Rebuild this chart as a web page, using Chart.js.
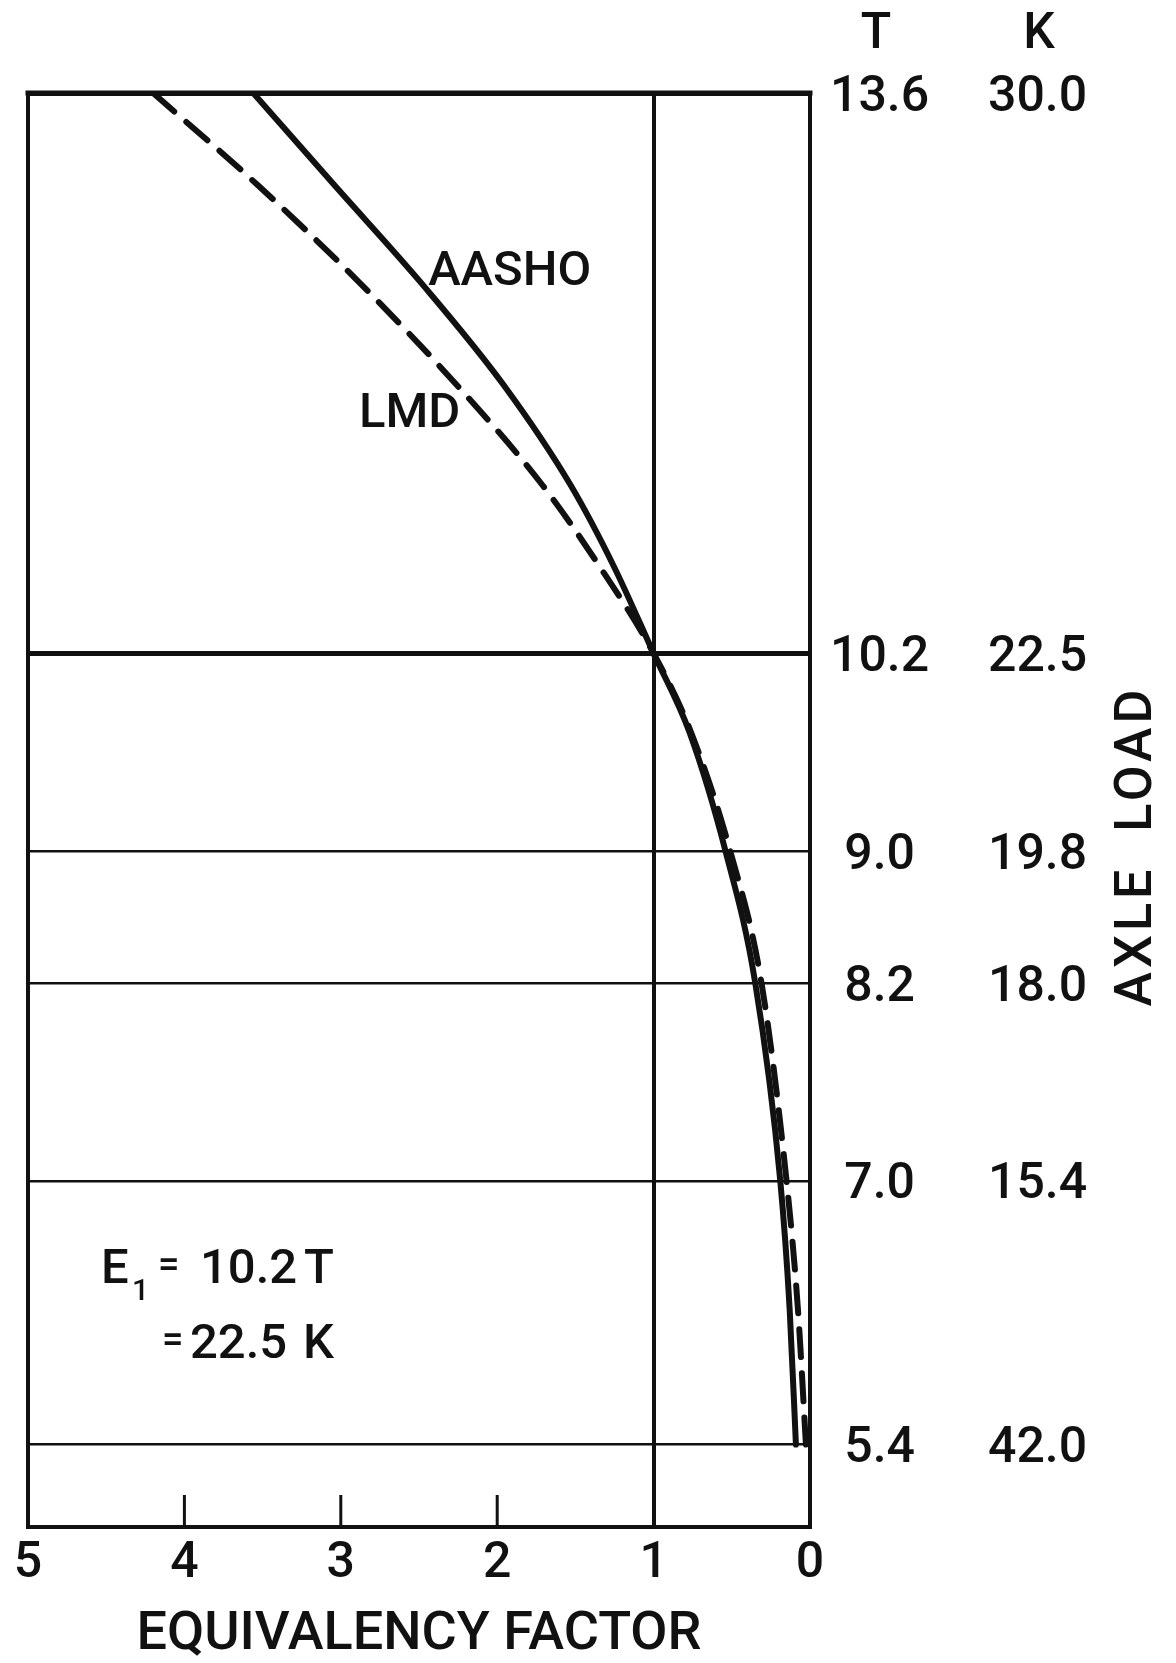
<!DOCTYPE html>
<html><head><meta charset="utf-8">
<script src="https://cdn.jsdelivr.net/npm/chart.js@4"></script>
<style>html,body{margin:0;padding:0;background:#fff}#wrap{width:1176px;height:1663px;position:relative}</style>
</head><body><div id="wrap"><canvas id="c" width="1176" height="1663"></canvas></div>
<script>
// ---- data ----
const T_TICKS  = [13.6, 10.2, 9.0, 8.2, 7.0, 5.4];          // axle load, tonnes
const K_LABELS = ['30.0', '22.5', '19.8', '18.0', '15.4', '42.0']; // as printed (kips)
const EF_INNER_TICKS = [4, 3, 2];
const AASHO_T  = [13.6, 13.04, 12.43, 11.83, 11.22, 10.72, 10.2, 9.72, 9.0, 8.2, 7.0, 6.22, 5.4];
const AASHO_EF = [3.56, 3.04, 2.47, 1.96, 1.53, 1.25, 1.0, 0.77, 0.54, 0.35, 0.19, 0.13, 0.09];
const LMD_T    = [13.6, 13.04, 12.43, 11.83, 11.22, 10.72, 10.2, 9.72, 9.0, 8.2, 7.0, 6.22, 5.4];
const LMD_EF   = [4.20, 3.53, 2.86, 2.26, 1.71, 1.34, 1.0, 0.76, 0.51, 0.31, 0.15, 0.077, 0.026];

const INK = '#111';
const FONT = 'Roboto';
const W = 500;
Chart.defaults.font.family = FONT;
Chart.defaults.font.weight = W;
Chart.defaults.color = INK;

const pts = (xs, ys) => xs.map((v, i) => ({x: v, y: ys[i]}));

const deco = {
  id: 'deco',
  beforeDraw(chart) {
    const c = chart.ctx; c.save(); c.fillStyle = '#fff'; c.fillRect(0, 0, chart.width, chart.height); c.restore();
  },
  afterDraw(chart) {
    const {ctx, chartArea: a, scales: {x, y}} = chart;
    ctx.save();
    ctx.strokeStyle = INK; ctx.fillStyle = INK; ctx.lineCap = 'square';
    // frame
    ctx.lineWidth = 4;
    ctx.beginPath();
    ctx.moveTo(a.left, a.top); ctx.lineTo(a.left, a.bottom); ctx.lineTo(a.right, a.bottom); ctx.lineTo(a.right, a.top);
    ctx.stroke();
    ctx.lineWidth = 5;
    ctx.beginPath(); ctx.moveTo(a.left, a.top); ctx.lineTo(a.right, a.top); ctx.stroke();
    // inner tick marks
    ctx.lineWidth = 3; ctx.lineCap = 'butt';
    EF_INNER_TICKS.forEach(v => {
      const px = x.getPixelForValue(v);
      ctx.beginPath(); ctx.moveTo(px, a.bottom); ctx.lineTo(px, a.bottom - 32); ctx.stroke();
    });
    // column headers
    ctx.textAlign = 'center'; ctx.textBaseline = 'middle';
    ctx.font = `${W} 50px "${FONT}"`;
    ctx.fillText('T', 876, 35);
    ctx.fillText('K', 1039, 35);
    // AXLE LOAD (reads bottom to top)
    ctx.save();
    ctx.translate(1138, 846); ctx.rotate(-Math.PI / 2);
    ctx.font = `${W} 52px "${FONT}"`;
    if ('letterSpacing' in ctx) ctx.letterSpacing = '4px';
    ctx.fillText('AXLE  LOAD', 0, 0);
    ctx.restore();
    // curve labels
    ctx.font = `${W} 49px "${FONT}"`;
    ctx.fillText('AASHO', x.getPixelForValue(1.92), y.getPixelForValue(12.51));
    ctx.fillText('LMD', x.getPixelForValue(2.56), y.getPixelForValue(11.65));
    // E1 note
    ctx.textAlign = 'left'; ctx.textBaseline = 'alphabetic';
    const b1 = 1283, b2 = 1358;
    ctx.font = `${W} 49px "${FONT}"`;
    ctx.fillText('E', 101, b1);
    ctx.font = `${W} 30px "${FONT}"`;
    ctx.fillText('1', 132, b1 + 17);
    ctx.font = `${W} 38px "${FONT}"`;
    ctx.fillText('=', 158, b1 - 6);
    ctx.fillText('=', 162, b2 - 6);
    ctx.font = `${W} 49px "${FONT}"`;
    ctx.fillText('10.2', 200, b1);
    ctx.fillText('T', 304, b1);
    ctx.fillText('22.5', 190, b2);
    ctx.fillText('K', 303, b2);
    ctx.restore();
  }
};

new Chart(document.getElementById('c'), {
  type: 'line',
  data: {
    datasets: [
      {label: 'AASHO', data: pts(AASHO_EF, AASHO_T), borderColor: INK, borderWidth: 6, pointRadius: 0, cubicInterpolationMode: 'monotone', borderCapStyle: 'round', fill: false},
      {label: 'LMD', data: pts(LMD_EF, LMD_T), borderColor: INK, borderWidth: 6, pointRadius: 0, cubicInterpolationMode: 'monotone', borderDash: [28, 16], borderCapStyle: 'round', fill: false}
    ]
  },
  options: {
    responsive: false, animation: false, devicePixelRatio: 1,
    layout: {padding: {left: 28, top: 93, right: 0, bottom: 0}},
    plugins: {legend: {display: false}, tooltip: {enabled: false}},
    scales: {
      x: {
        type: 'linear', position: 'bottom', reverse: true, min: 0, max: 5,
        ticks: {stepSize: 1, padding: 7, font: {size: 50}, color: INK, maxRotation: 0},
        grid: {drawTicks: false, color: c => (c.tick && c.tick.value === 1) ? INK : 'rgba(0,0,0,0)', lineWidth: 4},
        border: {display: false},
        title: {display: true, text: 'EQUIVALENCY FACTOR', font: {size: 54, lineHeight: 1}, color: INK, padding: {top: 0, bottom: 1}},
        afterFit: s => { s.height = 136; }
      },
      y: {
        type: 'linear', position: 'right', min: 4.9, max: 13.6,
        afterBuildTicks: s => { s.ticks = T_TICKS.map(v => ({value: v})); },
        ticks: {callback: v => Number(v).toFixed(1), padding: 20, labelOffset: 5, font: {size: 50}, color: INK, crossAlign: 'center'},
        grid: {drawTicks: false, color: INK, lineWidth: c => (c.tick && (c.tick.value === 10.2 || c.tick.value === 13.6)) ? 5 : 2.5},
        border: {display: false},
        afterFit: s => { s.width = 150; }
      },
      y2: {
        type: 'linear', position: 'right', min: 4.9, max: 13.6,
        afterBuildTicks: s => { s.ticks = T_TICKS.map(v => ({value: v})); },
        ticks: {callback: (v, i) => K_LABELS[i], padding: 28, labelOffset: 5, font: {size: 50}, color: INK, crossAlign: 'center'},
        grid: {display: false, drawTicks: false},
        border: {display: false},
        afterFit: s => { s.width = 216; }
      }
    }
  },
  plugins: [deco]
});
</script></body></html>
